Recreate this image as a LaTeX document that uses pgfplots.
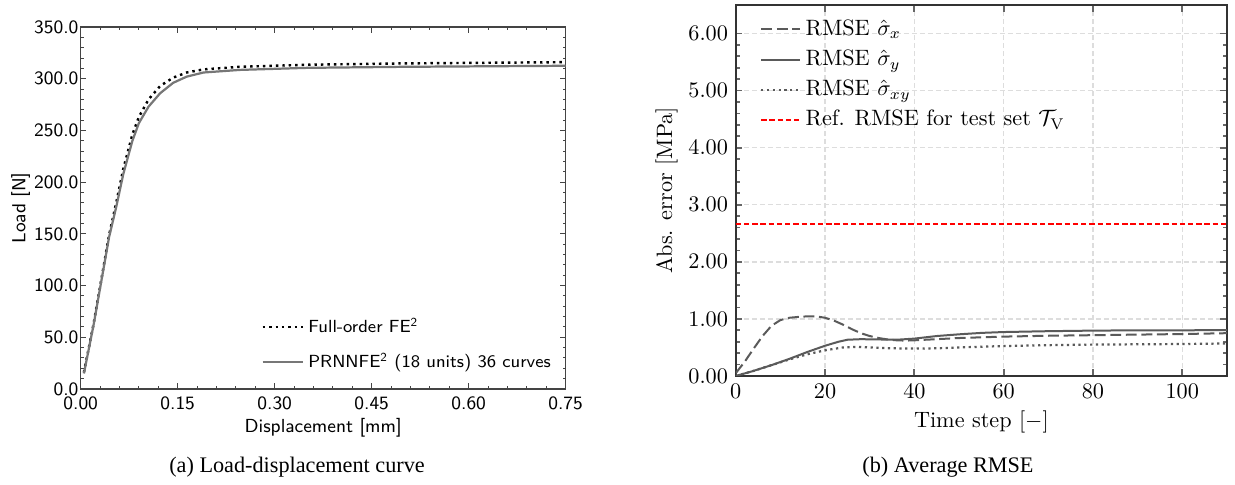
\documentclass[border=0pt]{standalone}
\usepackage{pgfplots}
\pgfplotsset{compat=1.18}
\usepackage{fontspec}
\newfontfamily\capfont{Liberation Serif}
\definecolor{frameL}{HTML}{444444}
\definecolor{frameR}{HTML}{333333}
\definecolor{tickR}{HTML}{666666}
\definecolor{curveR}{HTML}{5A5A5A}
\definecolor{curveL}{HTML}{777777}
\definecolor{gridR}{HTML}{DDDDDD}
\definecolor{refred}{HTML}{FF0000}
\begin{document}
\begin{tikzpicture}
\path[use as bounding box] (0,0) rectangle (555.75pt,218.25pt);
% ---------------- left axis ----------------
\begin{axis}[
  at={(36.3pt,43.2pt)}, anchor=south west,
  scale only axis, width=218.25pt, height=162.9pt,
  xmin=0, xmax=0.75, ymin=0, ymax=350,
  xtick={0,0.15,0.3,0.45,0.6,0.75},
  ytick={0,50,100,150,200,250,300,350},
  minor x tick num=4, minor y tick num=4,
  tick align=inside,
  major tick length=2.6pt, minor tick length=1.4pt,
  tick style={frameL, line width=0.45pt},
  axis line style={frameL, line width=0.5pt},
  font=\fontsize{8.5}{10}\selectfont\sffamily,
  /pgf/number format/assume math mode=true,
  xticklabel style={/pgf/number format/.cd, fixed, fixed zerofill, precision=2},
  yticklabel style={xshift=2.5pt, /pgf/number format/.cd, fixed, fixed zerofill, precision=1},
  scaled ticks=false,
  xlabel={Displacement [mm]}, ylabel={Load [N]},
  xlabel style={yshift=3pt},
  ylabel style={yshift=-5pt},
  legend style={draw=none, fill=none, at={(0.993,0.025)}, anchor=south east,
    font=\fontsize{7.9}{10}\selectfont\sffamily, row sep=3.5pt},
  legend cell align=left,
  legend image code/.code={\draw[#1] (0pt,0pt) -- (18pt,0pt);},
]
\addplot[black, line width=1.1pt, dash pattern=on 1.1pt off 1.8pt] coordinates {
(0.005,16) (0.02,63) (0.044,149) (0.055,180) (0.066,213) (0.08,246) (0.09,263)
(0.105,280) (0.123,293) (0.143,301) (0.164,306) (0.19,309) (0.246,311.5)
(0.35,313.5) (0.5,314.8) (0.75,316)};
\addlegendentry{Full-order FE\textsuperscript{2}}
\addplot[curveL, line width=1pt] coordinates {
(0.005,15) (0.02,62) (0.044,147) (0.055,176) (0.066,208) (0.08,240) (0.09,257)
(0.105,273) (0.123,286) (0.143,296) (0.164,302) (0.19,306) (0.246,308.5)
(0.35,310.5) (0.5,311.5) (0.75,312.5)};
\addlegendentry{PRNNFE\textsuperscript{2} (18 units) 36 curves}
\end{axis}
% ---------------- right axis ----------------
\begin{axis}[
  at={(331.1pt,49.05pt)}, anchor=south west,
  scale only axis, width=221pt, height=166.95pt,
  xmin=0, xmax=110, ymin=0, ymax=6.5,
  xtick={0,20,40,60,80,100},
  ytick={0,1,2,3,4,5,6},
  minor y tick num=4,
  tick align=inside,
  major tick length=3pt, minor tick length=1.8pt,
  tick style={tickR, line width=0.8pt},
  axis line style={frameR, line width=0.9pt},
  grid=major,
  major grid style={gridR, line width=0.6pt, dash pattern=on 2.3pt off 1.3pt},
  font=\fontsize{10}{12}\selectfont,
  yticklabel style={/pgf/number format/.cd, fixed, fixed zerofill, precision=2},
  scaled ticks=false,
  xlabel={Time step [$-$]}, ylabel={Abs. error [MPa]},
  xlabel style={yshift=1pt},
  ylabel style={yshift=-2pt},
  legend style={draw=none, fill=none, at={(0.035,0.985)}, anchor=north west,
    font=\fontsize{10}{12}\selectfont, row sep=1pt},
  legend cell align=left,
  legend image code/.code={\draw[#1] (0pt,0pt) -- (17.5pt,0pt);},
]
\addplot[curveR, line width=0.9pt, dash pattern=on 4.9pt off 2.1pt] coordinates {
(0,0.05) (2,0.25) (4,0.48) (6,0.7) (8,0.88) (10,0.98) (12,1.02) (14,1.035)
(16,1.045) (18,1.045) (20,1.02) (22,0.97) (24,0.9) (26,0.82) (28,0.75) (30,0.7)
(32,0.665) (34,0.64) (36,0.625) (38,0.62) (40,0.625) (45,0.645) (50,0.665)
(60,0.69) (70,0.705) (80,0.715) (90,0.725) (100,0.735) (110,0.75)};
\addlegendentry{RMSE $\hat{\sigma}_x$}
\addplot[curveR, line width=0.9pt] coordinates {
(0,0) (4,0.09) (8,0.19) (12,0.3) (16,0.42) (20,0.53) (23,0.6) (25,0.635)
(28,0.645) (32,0.64) (36,0.635) (40,0.655) (45,0.7) (50,0.73) (55,0.755)
(60,0.77) (70,0.785) (80,0.795) (90,0.8) (100,0.8) (110,0.805)};
\addlegendentry{RMSE $\hat{\sigma}_y$}
\addplot[curveR, line width=1pt, dash pattern=on 1pt off 1.6pt] coordinates {
(0,0) (4,0.09) (8,0.19) (12,0.29) (16,0.38) (20,0.45) (24,0.5) (27,0.51)
(30,0.5) (35,0.485) (40,0.48) (45,0.485) (50,0.5) (60,0.525) (70,0.54)
(80,0.55) (90,0.555) (100,0.56) (110,0.57)};
\addlegendentry{RMSE $\hat{\sigma}_{xy}$}
\addplot[draw=refred, line width=0.9pt, dash pattern=on 2.4pt off 1.3pt] coordinates {(0,2.67) (110,2.67)};
\addlegendentry{Ref. RMSE for test set $\mathcal{T}_{\mathrm{V}}$}
\end{axis}
\node[font=\capfont\fontsize{10}{12}\selectfont] at (133.65pt,8.1pt) {(a) Load-displacement curve};
\node[font=\capfont\fontsize{10}{12}\selectfont] at (426.6pt,8.1pt) {(b) Average RMSE};
\end{tikzpicture}
\end{document}
